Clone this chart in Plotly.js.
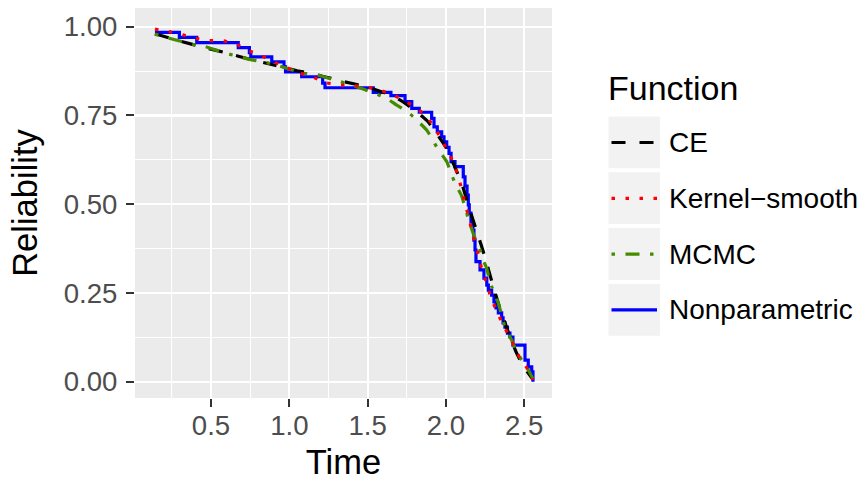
<!DOCTYPE html>
<html>
<head>
<meta charset="utf-8">
<script src="https://cdn.plot.ly/plotly-3.0.1.min.js"></script>
<style>
  html, body { margin: 0; padding: 0; background: #ffffff; }
  #chart { width: 865px; height: 481px; }
</style>
</head>
<body>
<div id="chart"></div>
<script>
// Reliability estimates over time for four estimation methods.

// Nonparametric (Kaplan-Meier style) step estimate
const npTime = [0.142, 0.298, 0.409, 0.674, 0.745, 0.754, 0.888, 0.966, 0.976, 1.079,
  1.213, 1.228, 1.536, 1.649, 1.739, 1.782, 1.830, 1.909, 1.924, 1.945,
  1.973, 1.988, 2.005, 2.020, 2.033, 2.058, 2.111, 2.122, 2.135, 2.143,
  2.149, 2.160, 2.171, 2.179, 2.186, 2.192, 2.218, 2.243, 2.261, 2.271,
  2.292, 2.307, 2.320, 2.335, 2.356, 2.365, 2.377, 2.393, 2.409, 2.428,
  2.505, 2.526, 2.548, 2.556];
const npRel = [0.984, 0.970, 0.955, 0.941, 0.927, 0.915, 0.901, 0.887, 0.873, 0.859,
  0.841, 0.828, 0.815, 0.806, 0.789, 0.770, 0.759, 0.742, 0.718, 0.704,
  0.690, 0.676, 0.660, 0.643, 0.620, 0.606, 0.577, 0.551, 0.526, 0.498,
  0.475, 0.450, 0.427, 0.399, 0.371, 0.338, 0.315, 0.292, 0.272, 0.258,
  0.244, 0.225, 0.208, 0.194, 0.180, 0.166, 0.154, 0.137, 0.126, 0.103,
  0.061, 0.042, 0.028, 0.000];

// CE estimate
const ceTime = [0.142, 0.30, 0.45, 0.60, 0.75, 0.90, 1.05, 1.20, 1.35, 1.50,
  1.60, 1.70, 1.80, 1.88, 1.95, 2.00, 2.05, 2.10, 2.15, 2.20,
  2.25, 2.30, 2.35, 2.40, 2.45, 2.50, 2.556];
const ceRel = [0.980, 0.960, 0.942, 0.926, 0.908, 0.892, 0.876, 0.862, 0.845, 0.830,
  0.815, 0.795, 0.765, 0.735, 0.693, 0.660, 0.612, 0.560, 0.487, 0.420,
  0.350, 0.272, 0.200, 0.138, 0.082, 0.040, 0.006];

// Kernel-smooth estimate
const ksTime = [0.142, 0.234, 0.319, 0.404, 0.489, 0.579, 0.664, 0.743, 0.824, 0.902,
  0.983, 1.064, 1.145, 1.228, 1.313, 1.398, 1.483, 1.573, 1.654, 1.732,
  1.809, 1.877, 1.930, 1.973, 2.015, 2.052, 2.079, 2.103, 2.122, 2.147,
  2.165, 2.186, 2.211, 2.232, 2.261, 2.286, 2.320, 2.356, 2.397, 2.435,
  2.473, 2.526, 2.556];
const ksRel = [0.993, 0.986, 0.977, 0.967, 0.961, 0.960, 0.950, 0.932, 0.918, 0.901,
  0.885, 0.870, 0.859, 0.843, 0.836, 0.834, 0.831, 0.822, 0.810, 0.792,
  0.772, 0.746, 0.715, 0.681, 0.648, 0.613, 0.576, 0.539, 0.501, 0.463,
  0.425, 0.390, 0.350, 0.313, 0.277, 0.239, 0.204, 0.169, 0.134, 0.101,
  0.066, 0.033, 0.005];

// MCMC estimate
const mcTime = [0.142, 0.239, 0.387, 0.462, 0.547, 0.615, 0.685, 0.770, 0.845, 0.930,
  1.089, 1.164, 1.241, 1.313, 1.430, 1.462, 1.547, 1.622, 1.686, 1.754,
  1.813, 1.877, 1.909, 1.952, 2.005, 2.031, 2.064, 2.101, 2.122, 2.143,
  2.186, 2.207, 2.229, 2.261, 2.277, 2.292, 2.335, 2.377, 2.420, 2.448,
  2.484, 2.526, 2.556];
const mcRel = [0.979, 0.967, 0.950, 0.944, 0.932, 0.923, 0.915, 0.906, 0.900, 0.890,
  0.869, 0.866, 0.856, 0.847, 0.831, 0.826, 0.812, 0.798, 0.779, 0.761,
  0.737, 0.709, 0.686, 0.653, 0.620, 0.589, 0.554, 0.523, 0.491, 0.460,
  0.404, 0.390, 0.352, 0.319, 0.288, 0.268, 0.221, 0.155, 0.117, 0.089,
  0.061, 0.033, 0.008];

const xTickVals = [0.5, 1.0, 1.5, 2.0, 2.5];
const yTickVals = [0.00, 0.25, 0.50, 0.75, 1.00];

const legendLabels = ['CE', 'Kernel\u2212smooth', 'MCMC', 'Nonparametric'];

// Series styling
const styles = {
  ce: { color: '#000000', dash: '14px,14px' },
  ks: { color: '#FF0000', dash: '3.5px,10.5px' },
  mc: { color: '#458B00', dash: '3.5px,10.5px,14px,10.5px' },
  np: { color: '#0000FF', dash: 'solid' }
};
const LW = 3.2;
const FONT = 'Liberation Sans, Arial, Helvetica, sans-serif';

const traces = [
  { x: npTime, y: npRel, type: 'scatter', mode: 'lines', name: legendLabels[3],
    line: { color: styles.np.color, width: LW, shape: 'hv', dash: styles.np.dash } },
  { x: ceTime, y: ceRel, type: 'scatter', mode: 'lines', name: legendLabels[0],
    line: { color: styles.ce.color, width: LW, dash: styles.ce.dash, shape: 'spline', smoothing: 0.6 } },
  { x: mcTime, y: mcRel, type: 'scatter', mode: 'lines', name: legendLabels[2],
    line: { color: styles.mc.color, width: LW, dash: styles.mc.dash, shape: 'spline', smoothing: 0.6 } },
  { x: ksTime, y: ksRel, type: 'scatter', mode: 'lines', name: legendLabels[1],
    line: { color: styles.ks.color, width: LW, dash: styles.ks.dash, shape: 'spline', smoothing: 0.6 } }
];

// Plot frame in pixels
const M = { l: 135, r: 313, t: 8, b: 83 };
const W = 865, H = 481;
const PW = W - M.l - M.r, PH = H - M.t - M.b;
const px = v => (v - M.l) / PW;       // page x -> paper x
const py = v => (H - M.b - v) / PH;   // page y -> paper y

// Legend drawn as keys + labels to the right of the panel
const legendKeys = [
  { label: legendLabels[0], s: styles.ce },
  { label: legendLabels[1], s: styles.ks },
  { label: legendLabels[2], s: styles.mc },
  { label: legendLabels[3], s: styles.np }
];
const shapes = [];
const annotations = [{
  xref: 'paper', yref: 'paper', x: px(606), y: py(88), xanchor: 'left', yanchor: 'middle',
  text: 'Function', showarrow: false, font: { family: FONT, size: 34, color: '#000000' }
}];
legendKeys.forEach((k, i) => {
  const top = 116.5 + i * 55.8;
  const mid = top + 26;
  shapes.push({
    type: 'rect', xref: 'paper', yref: 'paper', layer: 'above',
    x0: px(608.5), x1: px(660), y0: py(top), y1: py(top + 51.8),
    fillcolor: '#F2F2F2', line: { width: 0 }
  });
  shapes.push({
    type: 'line', xref: 'paper', yref: 'paper', layer: 'above',
    x0: px(611.5), x1: px(657), y0: py(mid), y1: py(mid),
    line: { color: k.s.color, width: LW, dash: k.s.dash }
  });
  annotations.push({
    xref: 'paper', yref: 'paper', x: px(667), y: py(mid), xanchor: 'left', yanchor: 'middle',
    text: k.label, showarrow: false, font: { family: FONT, size: 28, color: '#000000' }
  });
});

const layout = {
  width: W, height: H,
  margin: M,
  paper_bgcolor: '#FFFFFF',
  plot_bgcolor: '#EBEBEB',
  showlegend: false,
  font: { family: FONT },
  xaxis: {
    range: [0.0147, 2.6775],
    tickvals: xTickVals, ticktext: xTickVals.map(v => v.toFixed(1)),
    ticks: 'outside', ticklen: 8, tickwidth: 2, tickcolor: '#333333',
    ticklabelstandoff: -5,
    tickfont: { family: FONT, size: 27.6, color: '#4D4D4D' },
    showgrid: true, gridcolor: '#FFFFFF', gridwidth: 2.2,
    minor: { tick0: 0, dtick: 0.25, showgrid: true, gridcolor: '#FFFFFF', gridwidth: 1.1, ticks: '' },
    zeroline: false, showline: false,
    title: { text: 'Time', font: { family: FONT, size: 34.5, color: '#000000' }, standoff: 13 }
  },
  yaxis: {
    range: [-0.0459, 1.0527],
    tickvals: yTickVals, ticktext: yTickVals.map(v => v.toFixed(2)),
    ticks: 'outside', ticklen: 8, tickwidth: 2, tickcolor: '#333333',
    ticklabelstandoff: 3,
    tickfont: { family: FONT, size: 27.6, color: '#4D4D4D' },
    showgrid: true, gridcolor: '#FFFFFF', gridwidth: 2.2,
    minor: { tick0: 0, dtick: 0.125, showgrid: true, gridcolor: '#FFFFFF', gridwidth: 1.1, ticks: '' },
    zeroline: false, showline: false,
    title: { text: 'Reliability', font: { family: FONT, size: 34.5, color: '#000000' }, standoff: 15 }
  },
  shapes: shapes,
  annotations: annotations
};

Plotly.newPlot('chart', traces, layout, { displayModeBar: false, staticPlot: true });
</script>
</body>
</html>
